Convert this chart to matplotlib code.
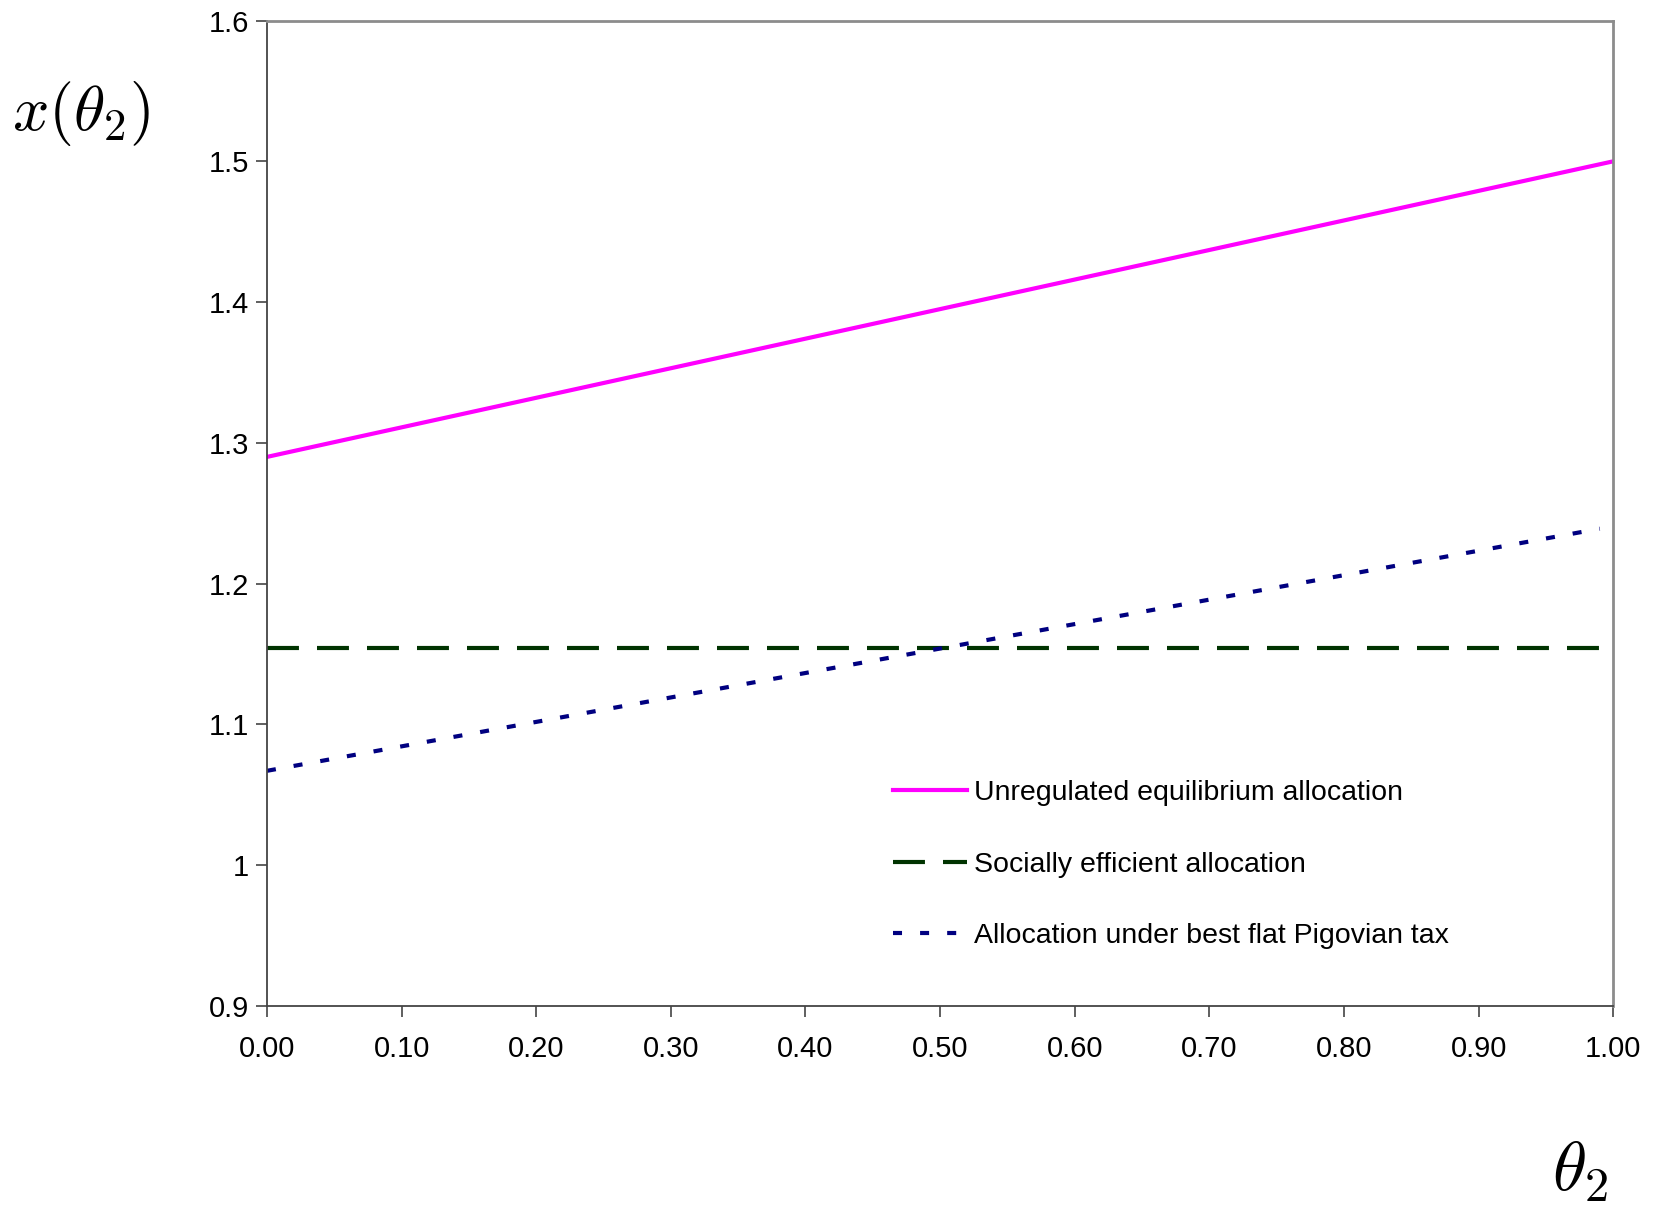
import matplotlib.pyplot as plt

plt.rcParams['font.family'] = ['Liberation Sans', 'DejaVu Sans']
plt.rcParams['mathtext.fontset'] = 'cm'
plt.rcParams['lines.scale_dashes'] = False

# data
theta = [0.0, 1.0]
unregulated = [1.29, 1.50]
theta_short = [0.0, 0.99]
efficient = [1.154, 1.154]
pigovian = [1.067, 1.239]

x_ticks = [0.0, 0.1, 0.2, 0.3, 0.4, 0.5, 0.6, 0.7, 0.8, 0.9, 1.0]
x_labels = ['0.00', '0.10', '0.20', '0.30', '0.40', '0.50',
            '0.60', '0.70', '0.80', '0.90', '1.00']
y_ticks = [0.9, 1.0, 1.1, 1.2, 1.3, 1.4, 1.5, 1.6]
y_labels = ['0.9', '1', '1.1', '1.2', '1.3', '1.4', '1.5', '1.6']

fig = plt.figure(figsize=(16.58, 12.09), dpi=100)
ax = fig.add_axes([0.161, 0.168, 0.812, 0.815])

ax.plot(theta, unregulated, color='#FF00FF', lw=3,
        label='Unregulated equilibrium allocation')
ax.plot(theta_short, efficient, color='#003300', lw=3, dashes=(23, 13),
        label='Socially efficient allocation')
ax.plot(theta_short, pigovian, color='#000080', lw=3, dashes=(6.5, 13),
        label='Allocation under best flat Pigovian tax')

ax.set_xlim(0, 1)
ax.set_ylim(0.9, 1.6)
ax.set_xticks(x_ticks)
ax.set_xticklabels(x_labels)
ax.set_yticks(y_ticks)
ax.set_yticklabels(y_labels)
ax.tick_params(direction='out', length=8, width=1.2, colors='#444444',
               labelcolor='black', labelsize=21, pad=5)
ax.tick_params(axis='x', pad=13)

for side in ['left', 'bottom']:
    ax.spines[side].set_color('#444444')
    ax.spines[side].set_linewidth(1.3)
for side in ['top', 'right']:
    ax.spines[side].set_color('#8c8c8c')
    ax.spines[side].set_linewidth(2)

leg = ax.legend(loc='upper left', bbox_to_anchor=(0.465, 0.229), frameon=False,
                fontsize=20.5, handlelength=2.6, handletextpad=0.25,
                labelspacing=1.6, borderpad=0, borderaxespad=0)

fig.text(0.049, 0.906, r'$x(\theta_2)$', fontsize=46, ha='center', va='center')
fig.text(0.953, 0.031, r'$\theta_2$', fontsize=50, ha='center', va='center')

fig.savefig('out.png', dpi=100)
